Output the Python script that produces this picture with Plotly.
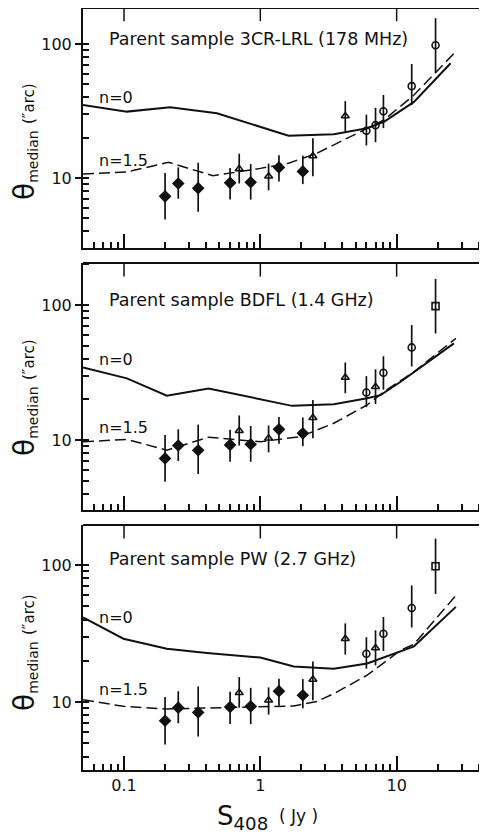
import plotly.graph_objects as go
from plotly.subplots import make_subplots

# --- observed medians (same sources in all three panels) ---
s408 = [0.2, 0.25, 0.35, 0.6, 0.7, 0.85, 1.15, 1.37, 2.05, 2.43, 4.2, 6.0, 7.0, 8.0, 12.9, 19.3]
theta_med = [7.3, 9.1, 8.4, 9.2, 11.7, 9.3, 10.3, 12.0, 11.2, 14.6, 29.0, 22.5, 24.8, 31.5, 48.5, 98.0]
theta_hi = [10.9, 12.0, 13.0, 11.9, 15.2, 12.7, 12.8, 14.8, 14.7, 19.8, 37.5, 29.7, 33.4, 41.7, 71.0, 156.0]
theta_lo = [4.9, 7.0, 5.6, 6.9, 9.1, 6.9, 8.1, 9.4, 9.0, 10.3, 22.2, 17.5, 18.5, 23.6, 35.0, 61.5]
# sample of each point: D = filled, T = triangle, C = circle, S = square
kind_p1 = list("DDDDTDTDDTTCCCCC")
kind_p2 = list("DDDDTDTDDTTCTCCS")
kind_p3 = list("DDDDTDTDDTTCTCCS")

# --- model curves ---
p1_n0_x = [0.05, 0.105, 0.218, 0.48, 1.61, 3.46, 6.08, 8.07, 13.4, 24.9]
p1_n0_y = [35.1, 31.3, 33.7, 30.4, 20.7, 21.2, 23.5, 26.3, 37.0, 71.8]
p1_n15_x = [0.05, 0.105, 0.212, 0.45, 1.0, 1.61, 2.6, 6.08, 8.07, 13.4, 26.3]
p1_n15_y = [10.7, 11.1, 13.1, 10.4, 11.8, 12.9, 15.3, 23.5, 27.1, 41.6, 85.0]

p2_n0_x = [0.05, 0.105, 0.206, 0.417, 1.71, 3.46, 6.08, 7.62, 10.7, 26.3]
p2_n0_y = [34.5, 28.6, 21.3, 24.1, 17.9, 18.4, 20.4, 21.5, 27.0, 52.0]
p2_n15_x = [0.05, 0.105, 0.206, 0.417, 1.0, 1.97, 3.46, 6.08, 8.07, 13.4, 27.2]
p2_n15_y = [9.7, 10.1, 8.4, 10.5, 9.7, 10.6, 13.3, 18.2, 22.8, 32.0, 56.6]

p3_n0_x = [0.05, 0.099, 0.206, 0.406, 1.0, 1.76, 3.46, 6.08, 13.4, 27.2]
p3_n0_y = [41.4, 29.0, 24.5, 22.8, 21.1, 18.2, 17.5, 19.1, 25.5, 49.5]
p3_n15_x = [0.05, 0.099, 0.206, 1.0, 1.76, 2.6, 3.46, 6.08, 10.7, 13.4, 28.0]
p3_n15_y = [10.4, 9.3, 8.9, 9.2, 9.35, 10.1, 11.5, 15.7, 23.9, 26.4, 62.0]

titles = ["Parent sample 3CR-LRL (178 MHz)", "Parent sample BDFL (1.4 GHz)", "Parent sample PW (2.7 GHz)"]

x_major = [0.1, 1, 10]
x_minor = [0.06, 0.07, 0.08, 0.09] + [k / 10 for k in range(2, 10)] + list(range(2, 10)) + [20, 30, 40]
y_major = [10, 100]
y_minor = list(range(3, 10)) + [10] + list(range(20, 100, 10)) + [100, 200]

# the page body has an 8px margin, so the figure is drawn 8px smaller and
# every layout position below is given in window pixels
PAGE_W, PAGE_H, OFF = 487, 835, 8
W, H = PAGE_W - OFF, PAGE_H - OFF
FONT = "DejaVu Sans, Liberation Sans, Arial, sans-serif"
INK = "#111111"


def px(x):
    return (x - OFF) / W


def py(y):
    return 1 - (y - OFF) / H


panels = [
    dict(kind=kind_p1, n0=(p1_n0_x, p1_n0_y), n15=(p1_n15_x, p1_n15_y),
         top=8, bot=248, yr=[0.4776, 2.269], title_y=39, n0_y=97, n15_y=160, ylab_y=142),
    dict(kind=kind_p2, n0=(p2_n0_x, p2_n0_y), n15=(p2_n15_x, p2_n15_y),
         top=263, bot=510, yr=[0.4815, 2.311], title_y=300, n0_y=359, n15_y=427, ylab_y=398),
    dict(kind=kind_p3, n0=(p3_n0_x, p3_n0_y), n15=(p3_n15_x, p3_n15_y),
         top=525, bot=770, yr=[0.504, 2.292], title_y=559, n0_y=617, n15_y=689, ylab_y=653),
]

symbols = {"D": "diamond", "T": "triangle-up-open", "C": "circle-open", "S": "square-open"}
sizes = {"D": 8, "T": 7, "C": 7, "S": 7}

fig = make_subplots(rows=3, cols=1)

for i, p in enumerate(panels, start=1):
    fig.add_trace(go.Scatter(x=p["n0"][0], y=p["n0"][1], mode="lines",
                             line=dict(color=INK, width=2), showlegend=False), row=i, col=1)
    fig.add_trace(go.Scatter(x=p["n15"][0], y=p["n15"][1], mode="lines",
                             line=dict(color=INK, width=1.5, dash="11px,5px"), showlegend=False), row=i, col=1)
    for k in "DTCS":
        idx = [j for j, c in enumerate(p["kind"]) if c == k]
        if not idx:
            continue
        fig.add_trace(go.Scatter(
            x=[s408[j] for j in idx], y=[theta_med[j] for j in idx], mode="markers",
            marker=dict(symbol=symbols[k], size=sizes[k], color=INK, line=dict(color=INK, width=1.6)),
            error_y=dict(type="data", symmetric=False,
                         array=[theta_hi[j] - theta_med[j] for j in idx],
                         arrayminus=[theta_med[j] - theta_lo[j] for j in idx],
                         color=INK, thickness=1.7, width=0),
            showlegend=False), row=i, col=1)

    xa = "xaxis" if i == 1 else f"xaxis{i}"
    ya = "yaxis" if i == 1 else f"yaxis{i}"
    fig.layout[xa].update(
        type="log", range=[-1.301, 1.663], domain=[px(83), 1], automargin=False,
        showline=True, linecolor=INK, linewidth=2, showgrid=False, zeroline=False,
        tickvals=x_major, ticktext=["0.1", "1", "10"], ticks="inside", ticklen=14,
        tickwidth=1.5, tickcolor=INK, showticklabels=(i == 3),
        tickfont=dict(family=FONT, size=16, color=INK),
        minor=dict(tickvals=x_minor, ticks="inside", ticklen=6, tickwidth=1.5, tickcolor=INK, showgrid=False),
    )
    fig.layout[ya].update(
        type="log", range=p["yr"], domain=[py(p["bot"]), min(1, py(p["top"]))], automargin=False,
        showline=True, linecolor=INK, linewidth=2, showgrid=False, zeroline=False,
        tickvals=y_major, ticktext=["10", "100"], ticks="outside", ticklen=6,
        tickwidth=1.5, tickcolor=INK, tickfont=dict(family=FONT, size=16, color=INK),
        minor=dict(tickvals=y_minor, ticks="inside", ticklen=6, tickwidth=1.5, tickcolor=INK, showgrid=False),
    )

    xr = "x" if i == 1 else f"x{i}"
    yr = "y" if i == 1 else f"y{i}"
    # top frame with long major ticks
    fig.add_shape(type="line", xref=f"{xr} domain", yref=f"{yr} domain", x0=0, x1=1, y0=1, y1=1,
                  line=dict(color=INK, width=2))
    for v in x_major:
        fig.add_shape(type="line", xref=xr, yref=f"{yr} domain", x0=v, x1=v, y0=1, y1=0.945,
                      line=dict(color=INK, width=1.5))
    # right-hand ticks
    for v in y_major:
        fig.add_shape(type="line", xref=f"{xr} domain", yref=yr, x0=0.983, x1=1.0, y0=v, y1=v,
                      line=dict(color=INK, width=1.5))

    fig.add_annotation(text=titles[i - 1], xref="paper", yref="paper", x=px(108), y=py(p["title_y"]),
                       xanchor="left", yanchor="middle", showarrow=False, borderpad=0,
                       font=dict(family=FONT, size=17.5, color=INK))
    fig.add_annotation(text="n=0", xref="paper", yref="paper", x=px(98), y=py(p["n0_y"]),
                       xanchor="left", yanchor="middle", showarrow=False, borderpad=0,
                       font=dict(family=FONT, size=16, color=INK))
    fig.add_annotation(text="n=1.5", xref="paper", yref="paper", x=px(98), y=py(p["n15_y"]),
                       xanchor="left", yanchor="middle", showarrow=False, borderpad=0,
                       font=dict(family=FONT, size=16, color=INK))
    fig.add_annotation(
        text="<span style='font-size:28px'>θ</span><sub>median</sub> <span style='font-size:15px'>(″arc)</span>",
        xref="paper", yref="paper", x=px(24), y=py(p["ylab_y"]), textangle=-90,
        xanchor="center", yanchor="middle", showarrow=False, borderpad=0,
        font=dict(family=FONT, size=20, color=INK))

fig.add_annotation(
    text="S<sub>408</sub>", xref="paper", yref="paper", x=px(216), y=0,
    xanchor="left", yanchor="bottom", borderpad=0, showarrow=False,
    font=dict(family=FONT, size=26, color=INK))
fig.add_annotation(
    text="( Jy )", xref="paper", yref="paper", x=px(278), y=py(816),
    xanchor="left", yanchor="middle", borderpad=0, showarrow=False,
    font=dict(family=FONT, size=17, color=INK))

fig.update_layout(
    width=W, height=H, margin=dict(l=0, r=0, t=0, b=0),
    paper_bgcolor="white", plot_bgcolor="white", showlegend=False,
)

fig.write_html("out.html")
